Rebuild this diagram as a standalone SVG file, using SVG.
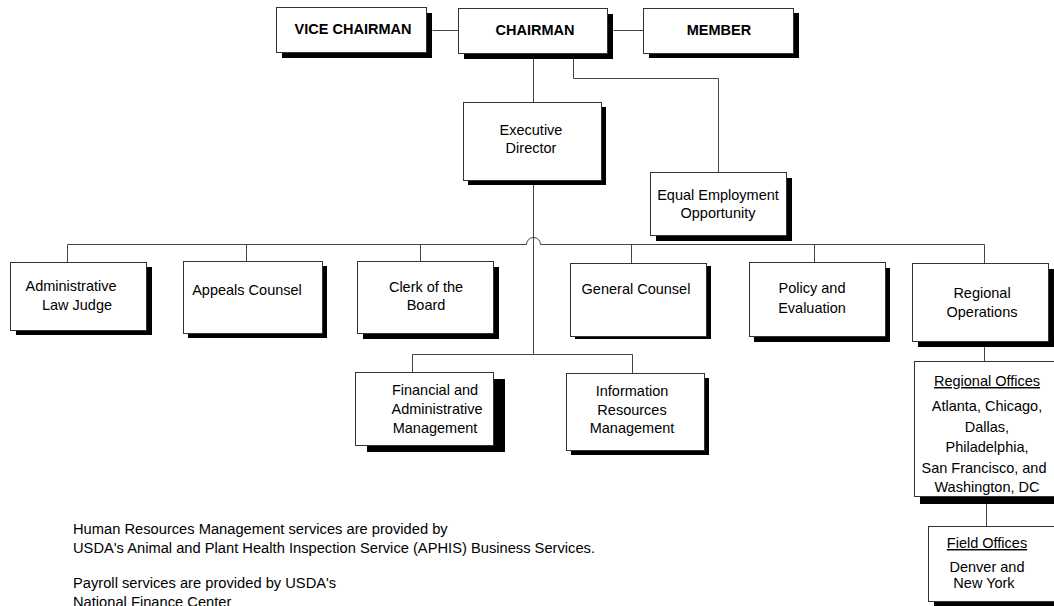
<svg xmlns="http://www.w3.org/2000/svg" width="1054" height="606" viewBox="0 0 1054 606">
<style>
.sh{fill:#000}
.bx{fill:#fff;stroke:#333;stroke-width:1}
.t{font-family:"Liberation Sans",Arial,sans-serif;font-size:14.5px;fill:#000;text-anchor:middle}
.b{font-weight:bold}
.u{text-decoration:underline}
.n{font-family:"Liberation Sans",Arial,sans-serif;font-size:14.7px;fill:#000}
.c{fill:none;stroke:#444;stroke-width:1}
</style>
<rect width="1054" height="606" fill="#fff"/>
<g id="connectors">
<path class="c" d="M432.5,30.5H458.5M613.5,30.5H643.5"/>
<path class="c" d="M533.5,53V102"/>
<path class="c" d="M573.5,53V78.5H718.5V172"/>
<path class="c" d="M533.5,180V354"/>
<path class="c" d="M67.5,262V244.5H526.5A7,7 0 0 1 540.5,244.5H984.5V263"/>
<path class="c" d="M246.5,244.5V261M420.5,244.5V261M631.5,244.5V263M814.5,244.5V262"/>
<path class="c" d="M412.5,372V354.5H632.5V373"/>
<path class="c" d="M984.5,341V361"/>
<path class="c" d="M986.5,504V526"/>
</g>
<g id="vice-chairman">
<rect class="sh" x="282" y="13" width="150" height="45"/>
<rect class="bx" x="276.5" y="7.5" width="150" height="45"/>
<text class="t b" x="353" y="34">VICE CHAIRMAN</text>
</g>
<g id="chairman">
<rect class="sh" x="464" y="14" width="149" height="45"/>
<rect class="bx" x="458.5" y="8.5" width="149" height="45"/>
<text class="t b" x="535" y="35">CHAIRMAN</text>
</g>
<g id="member">
<rect class="sh" x="649" y="13" width="150" height="45"/>
<rect class="bx" x="643.5" y="8.5" width="150" height="45"/>
<text class="t b" x="719" y="35">MEMBER</text>
</g>
<g id="executive-director">
<rect class="sh" x="468" y="107" width="138" height="78"/>
<rect class="bx" x="463.5" y="102.5" width="138" height="78"/>
<text class="t" x="531" y="135">Executive</text>
<text class="t" x="531" y="153">Director</text>
</g>
<g id="eeo">
<rect class="sh" x="656" y="178" width="136" height="63"/>
<rect class="bx" x="650.5" y="172.5" width="136" height="63"/>
<text class="t" x="718" y="200">Equal Employment</text>
<text class="t" x="718" y="218">Opportunity</text>
</g>
<g id="administrative-law-judge">
<rect class="sh" x="16" y="267" width="136" height="68"/>
<rect class="bx" x="10.5" y="262.5" width="136" height="68"/>
<text class="t" x="71" y="291">Administrative</text>
<text class="t" x="77" y="310">Law Judge</text>
</g>
<g id="appeals-counsel">
<rect class="sh" x="188" y="266" width="139" height="72"/>
<rect class="bx" x="183.5" y="261.5" width="139" height="72"/>
<text class="t" x="247" y="295">Appeals Counsel</text>
</g>
<g id="clerk-of-the-board">
<rect class="sh" x="363" y="267" width="136" height="72"/>
<rect class="bx" x="357.5" y="261.5" width="136" height="72"/>
<text class="t" x="426" y="292">Clerk of the</text>
<text class="t" x="426" y="310">Board</text>
</g>
<g id="general-counsel">
<rect class="sh" x="575" y="266" width="136" height="73"/>
<rect class="bx" x="570.5" y="263.5" width="136" height="73"/>
<text class="t" x="636" y="294">General Counsel</text>
</g>
<g id="policy-and-evaluation">
<rect class="sh" x="754" y="268" width="136" height="74"/>
<rect class="bx" x="749.5" y="262.5" width="136" height="74"/>
<text class="t" x="812" y="293">Policy and</text>
<text class="t" x="812" y="313">Evaluation</text>
</g>
<g id="regional-operations">
<rect class="sh" x="918" y="269" width="136" height="78"/>
<rect class="bx" x="912.5" y="263.5" width="136" height="78"/>
<text class="t" x="982" y="298">Regional</text>
<text class="t" x="982" y="317">Operations</text>
</g>
<g id="financial-and-administrative-management">
<rect class="sh" x="367" y="379" width="138" height="73"/>
<rect class="bx" x="355.5" y="372.5" width="138" height="73"/>
<text class="t" x="435" y="395">Financial and</text>
<text class="t" x="437" y="414">Administrative</text>
<text class="t" x="435" y="433">Management</text>
</g>
<g id="information-resources-management">
<rect class="sh" x="571" y="378" width="138" height="77"/>
<rect class="bx" x="566.5" y="373.5" width="138" height="77"/>
<text class="t" x="632" y="396">Information</text>
<text class="t" x="632" y="415">Resources</text>
<text class="t" x="632" y="433">Management</text>
</g>
<g id="regional-offices">
<rect class="sh" x="920" y="369" width="150" height="135"/>
<rect class="bx" x="914.5" y="361.5" width="150" height="135"/>
<text class="t u" x="987" y="386">Regional Offices</text>
<text class="t" x="987" y="411">Atlanta, Chicago,</text>
<text class="t" x="987" y="432">Dallas,</text>
<text class="t" x="987" y="452">Philadelphia,</text>
<text class="t" x="984" y="473">San Francisco, and</text>
<text class="t" x="987" y="492">Washington, DC</text>
</g>
<g id="field-offices">
<rect class="sh" x="934" y="532" width="150" height="80"/>
<rect class="bx" x="928.5" y="526.5" width="150" height="75"/>
<text class="t u" x="987" y="548">Field Offices</text>
<text class="t" x="987" y="572">Denver and</text>
<text class="t" x="984" y="588">New York</text>
</g>
<g id="notes">
<text class="n" x="73" y="534">Human Resources Management services are provided by</text>
<text class="n" x="73" y="553">USDA's Animal and Plant Health Inspection Service (APHIS) Business Services.</text>
<text class="n" x="73" y="588">Payroll services are provided by USDA's</text>
<text class="n" x="73" y="607">National Finance Center</text>
</g>
</svg>
